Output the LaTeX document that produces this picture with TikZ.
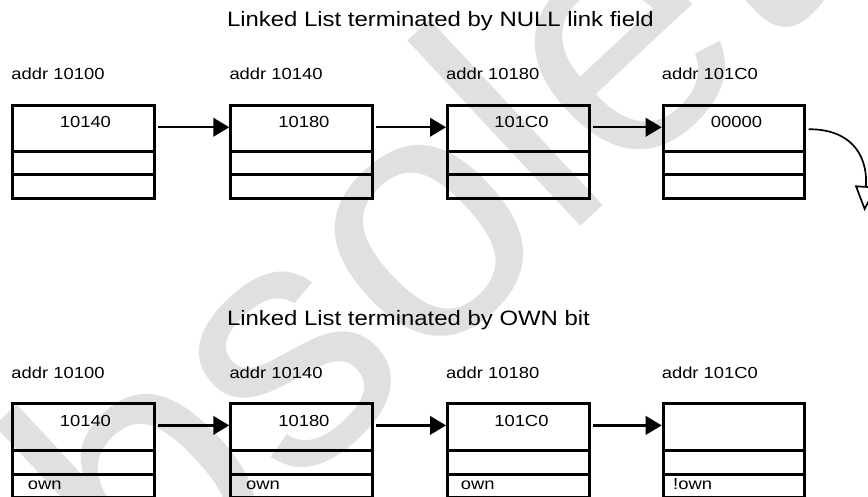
\documentclass[tikz,border=0pt]{standalone}
\usepackage{fontspec}
\setmainfont{Liberation Sans}
\newfontfamily\lblfont[FakeStretch=1.15]{Liberation Sans}
\newfontfamily\wmfont{Liberation Sans}
\usetikzlibrary{arrows.meta}
\definecolor{wmgray}{gray}{0.88}
\begin{document}
\begin{tikzpicture}[x=1pt,y=-1pt,
  cell/.style={draw, line width=3pt, minimum width=141.5pt, inner sep=0pt, outer sep=0pt, anchor=north west},
  val/.style={font=\lblfont\fontsize{16}{18}\selectfont, anchor=base, inner sep=0pt},
  lbl/.style={font=\lblfont\fontsize{16}{18}\selectfont, anchor=base west, inner sep=0pt},
  ttl/.style={font=\lblfont\fontsize{20.8}{24}\selectfont, anchor=base west, inner sep=0pt},
  link/.style={line width=2.4pt, -{Triangle[length=16pt,width=18.5pt]}, shorten <=4pt, shorten >=1.5pt},
  nulllink/.style={line width=1.7pt, -{Triangle[length=25pt,width=22pt,fill=white]}}]
\useasboundingbox (0,0) rectangle (868,497);
\clip (0,0) rectangle (868,497);
% watermark
\node[anchor=base west, rotate=43, inner sep=0pt, text=wmgray,
      font=\wmfont\fontsize{350}{350}\selectfont] (wm) at (-48.3,813.6) {Obsolete};
% titles
\node[ttl] (title1) at (226.8,26.7) {Linked List terminated by NULL link field};
\node[ttl] (title2) at (226.8,325.5) {Linked List terminated by OWN bit};
% top row boxes
\foreach \i/\x in {1/12.5,2/230.8,3/447.5,4/663.2}{
  \node[cell, minimum height=46.5pt] (ta\i) at (\x,105.5) {};
  \node[cell, minimum height=22.7pt] (tb\i) at (ta\i.south west) {};
  \node[cell, minimum height=23.6pt] (tc\i) at (tb\i.south west) {};
}
% bottom row boxes
\foreach \i/\x in {1/12.5,2/230.8,3/447.5,4/663.2}{
  \node[cell, minimum height=47.2pt] (ba\i) at (\x,403.3) {};
  \node[cell, minimum height=23.7pt] (bb\i) at (ba\i.south west) {};
  \node[cell, minimum height=23.6pt] (bc\i) at (bb\i.south west) {};
}
% address labels
\foreach \i/\x/\t in {1/11.3/addr 10100,2/229.3/addr 10140,3/446/addr 10180,4/661.6/addr 101C0}{
  \node[lbl] (tl\i) at (\x,80) {\t};
  \node[lbl] (bl\i) at (\x,378.3) {\t};
}
% values
\foreach \i/\x/\v in {1/85.4/10140,2/303.9/10180,3/521.4/101C0,4/736.5/00000}{
  \node[val] (tv\i) at (\x,127.7) {\v};
}
\foreach \i/\x/\v in {1/85.4/10140,2/303.9/10180,3/521.4/101C0}{
  \node[val] (bv\i) at (\x,426.7) {\v};
}
% own bits
\node[lbl] (own1) at (27.7,489.3) {own};
\node[lbl] (own2) at (246,489.3) {own};
\node[lbl] (own3) at (460.7,489.3) {own};
\node[lbl] (own4) at (673,489.3) {!own};
% links
\foreach \a/\b in {1/2,2/3,3/4}{
  \draw[link] ([yshift=1.5pt]ta\a.east) -- ([yshift=1.5pt]ta\b.west);
  \draw[link] ([yshift=1.5pt]ba\a.east) -- ([yshift=1.5pt]ba\b.west);
}
% null link
\coordinate (nullend) at (864.5,211);
\draw[nulllink] ([xshift=4pt,yshift=-0.5pt]ta4.east) .. controls (848,129) and (868,152) .. (nullend);
\end{tikzpicture}
\end{document}
